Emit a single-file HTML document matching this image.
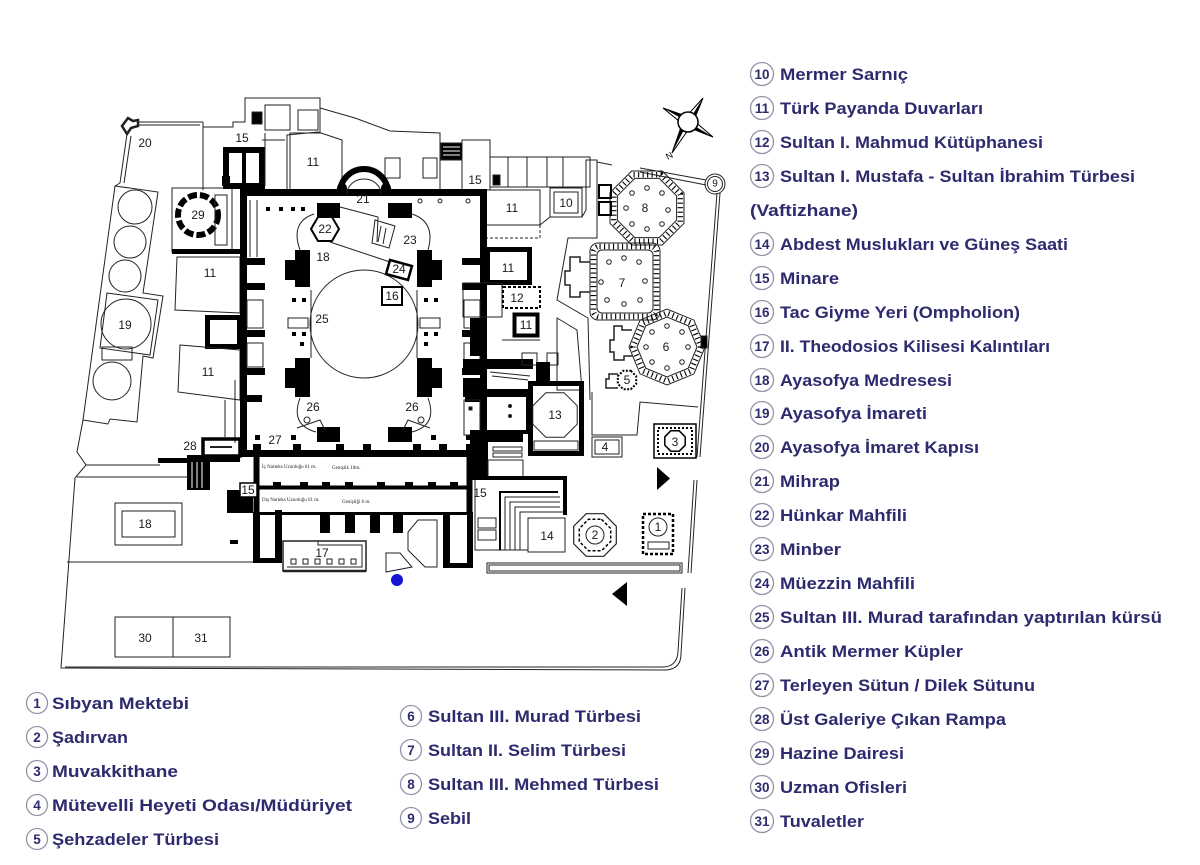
<!DOCTYPE html>
<html><head><meta charset="utf-8">
<style>
html,body{margin:0;padding:0;background:#fff;}
svg{display:block}
.l{font-family:"Liberation Sans",sans-serif;font-size:12px;fill:#1a1a1a;text-anchor:middle;dominant-baseline:central;stroke:none}
.g{font-family:"Liberation Sans","DejaVu Sans",sans-serif;font-weight:bold;font-size:17px;fill:#2d2b6e;stroke:none}
.n{font-family:"Liberation Sans",sans-serif;font-weight:bold;font-size:13.5px;fill:#2d2b6e;text-anchor:middle;stroke:none}
.t{font-family:"Liberation Serif",serif;font-size:5px;fill:#222;stroke:none}
</style></head><body>
<svg width="1200" height="865" viewBox="0 0 1200 865" xmlns="http://www.w3.org/2000/svg">
<rect width="1200" height="865" fill="#fff"/>

<!-- ================= PLAN ================= -->
<g fill="none" stroke="#222" stroke-width="1">
 <!-- site boundary -->
 <path d="M127 134 L120 183 L115 186 L83 420 L77 452 L86 465 L75 478 L61 668 L666 670 Q681 669 681 654 L685 588"/>
 <path d="M65 667 L664 667 Q677 666 678 652 L682 588"/>
 <path d="M131 136 L124 183"/>
 <path d="M138 122 L203 122 M138 125 L200 125 M203 122 L203 190"/>
 <path d="M122 126 L128 118 L133 121 L138 120 L138 126 L131 128 L127 134 Z" stroke-width="2.5"/>
 <!-- strip with circles -->
 <path d="M115 186 L158 192 L143 293 L163 296 L153 358 L143 356 L137 422 L110 419 L108 424 L83 420"/>
 <polygon points="107,293 158,300 150,355 100,348"/>
 <rect x="102" y="347" width="30" height="13"/>
 <circle cx="135" cy="207" r="17"/>
 <circle cx="130" cy="242" r="16"/>
 <circle cx="125" cy="276" r="16"/>
 <circle cx="126" cy="324" r="25"/>
 <circle cx="112" cy="381" r="19"/>
 <!-- horizontal lines lower left -->
 <path d="M86 465 L160 465 M77 477 L188 477 M67 562 L253 562"/>
 <rect x="115" y="503" width="67" height="42"/>
 <rect x="122" y="511" width="53" height="26"/>
 <rect x="115" y="617" width="58" height="40"/>
 <rect x="173" y="617" width="57" height="40"/>

 <!-- 29 block -->
 <rect x="172" y="188" width="60" height="64"/>
 <circle cx="198" cy="215" r="20" stroke="#000" stroke-width="6" stroke-dasharray="9 3"/>
 <rect x="172" y="249" width="70" height="5" fill="#000" stroke="none"/>
 <rect x="215" y="195" width="12" height="50" />
 <!-- 11 boxes left -->
 <polygon points="177,257 240,257 240,313 175,310"/>
 <rect x="207.5" y="317.5" width="32" height="29" stroke="#000" stroke-width="5"/>
 <polygon points="180,345 240,350 240,400 178,392"/>
 <path d="M225 400 L225 437 M235 380 L235 443"/>
 <rect x="203" y="439" width="37" height="17" stroke="#000" stroke-width="3.5"/>
 <path d="M210 447 L232 447" stroke-width="2"/>
 <rect x="158" y="458" width="30" height="5" fill="#000" stroke="none"/>

 <!-- top-left cluster -->
 <path d="M203 127 L233 127 L233 122 L245 122 L245 98 L320 98 L320 133 L290 133 L290 190"/>
 <rect x="226" y="150" width="36" height="36" stroke="#000" stroke-width="6"/>
 <path d="M244 150 L244 186" stroke="#000" stroke-width="4"/>
 <rect x="222" y="176" width="8" height="10" fill="#000" stroke="none"/>
 <rect x="265" y="105" width="25" height="25"/>
 <rect x="298" y="110" width="20" height="20"/>
 <rect x="252" y="112" width="10" height="12" fill="#000"/>
 <path d="M262 140 L285 140 M265 133 L265 186"/>
 <polygon points="287,135 318,132 342,140 342,190 287,190"/>
 <path d="M320 108 L355 118 L390 131 L440 133 L440 190"/>
 <rect x="385" y="158" width="15" height="20"/>
 <rect x="423" y="158" width="14" height="20"/>
 <rect x="441" y="143" width="21" height="17" fill="#000"/>
 <path d="M443 147 L460 147 M443 151 L460 151 M443 155 L460 155" stroke="#fff"/>
 <!-- right-top cluster -->
 <rect x="462" y="140" width="28" height="50"/>
 <rect x="490" y="157" width="100" height="30"/>
 <path d="M508 157 L508 187 M527 157 L527 187 M547 157 L547 187 M563 157 L563 187"/>
 <rect x="493" y="175" width="7" height="10" fill="#000"/>
 <rect x="485" y="190" width="55" height="35"/>
 <rect x="485" y="225" width="55" height="13" stroke-dasharray="3 2"/>
 <rect x="550" y="188" width="32" height="29"/>
 <rect x="554" y="192" width="24" height="21"/>
 <path d="M540 225 L550 217 M582 217 L586 210 L586 160 L597 160 L597 238 L568 238 L557 300 L588 318 L590 400"/>

 <!-- main building -->
 <rect x="243.5" y="192.5" width="240" height="261" stroke="#000" stroke-width="7"/>
 <path d="M340 193 A24 24 0 0 1 388 193" stroke="#000" stroke-width="6"/>
 <path d="M347 194 A17 15 0 0 1 381 194"/>
 <circle cx="342" cy="188" r="5" fill="#000" stroke="none"/>
 <circle cx="386" cy="188" r="5" fill="#000" stroke="none"/>
 <g fill="#000" stroke="none">
  <rect x="317" y="203" width="23" height="15"/>
  <rect x="388" y="203" width="24" height="15"/>
  <rect x="317" y="427" width="23" height="15"/>
  <rect x="388" y="427" width="24" height="15"/>
  <path d="M295 250 H310 V287 H295 V280 H285 V260 H295 Z"/>
  <path d="M417 250 H432 V260 H442 V280 H432 V287 H417 Z"/>
  <path d="M295 358 H310 V397 H295 V388 H285 V368 H295 Z"/>
  <path d="M417 358 H432 V368 H442 V388 H432 V397 H417 Z"/>
  <!-- aisle blocks -->
  <rect x="247" y="258" width="18" height="7"/><rect x="247" y="283" width="18" height="7"/>
  <rect x="247" y="330" width="18" height="7"/><rect x="247" y="368" width="18" height="7"/>
  <rect x="247" y="395" width="15" height="7"/>
  <rect x="462" y="258" width="18" height="7"/><rect x="462" y="283" width="18" height="7"/>
  <rect x="462" y="330" width="18" height="7"/><rect x="462" y="368" width="18" height="7"/>
  <rect x="465" y="395" width="15" height="7"/>
  <!-- bottom wall lumps -->
  <rect x="253" y="444" width="8" height="7"/><rect x="293" y="444" width="8" height="7"/>
  <rect x="336" y="444" width="8" height="7"/><rect x="363" y="444" width="8" height="7"/>
  <rect x="413" y="444" width="8" height="7"/><rect x="439" y="444" width="8" height="7"/>
  <rect x="466" y="444" width="8" height="7"/>
  <!-- small squares -->
  <rect x="266" y="207" width="4" height="4"/><rect x="279" y="207" width="4" height="4"/>
  <rect x="291" y="207" width="4" height="4"/><rect x="301" y="207" width="4" height="4"/>
  <rect x="255" y="435" width="5" height="5"/><rect x="291" y="435" width="5" height="5"/>
  <rect x="431" y="435" width="5" height="5"/><rect x="466" y="435" width="5" height="5"/>
  <rect x="292" y="298" width="4" height="4"/><rect x="302" y="298" width="4" height="4"/>
  <rect x="292" y="332" width="4" height="4"/><rect x="302" y="332" width="4" height="4"/>
  <rect x="424" y="298" width="4" height="4"/><rect x="434" y="298" width="4" height="4"/>
  <rect x="424" y="332" width="4" height="4"/><rect x="434" y="332" width="4" height="4"/>
  <rect x="300" y="342" width="4" height="4"/><rect x="424" y="342" width="4" height="4"/>
 </g>
 <circle cx="420" cy="201" r="2"/><circle cx="468" cy="201" r="2"/><circle cx="440" cy="201" r="2"/>
 <path d="M250 200 L250 257 M257 200 L257 257"/>
 <rect x="247" y="300" width="16" height="28"/><rect x="247" y="343" width="16" height="24"/>
 <rect x="464" y="300" width="16" height="28"/><rect x="464" y="343" width="16" height="24"/>
 <rect x="288" y="318" width="20" height="10"/><rect x="420" y="318" width="20" height="10"/>
 <path d="M311 290 L311 358 M417 290 L417 358"/>
 <!-- exedras -->
 <path d="M314 214 Q290 222 300 250"/>
 <path d="M412 214 Q436 222 428 250"/>
 <path d="M300 398 Q290 425 316 432"/>
 <path d="M428 398 Q438 425 412 432"/>
 <!-- dome -->
 <circle cx="364" cy="324" r="54"/>
 <!-- diagonal medrese lines -->
 <path d="M340 207 L378 217 M330 242 L390 262 M378 217 L377 242"/>
 <polygon points="375,220 395,226 389,248 372,243"/>
 <path d="M381 226 L378 242 M386 228 L383 244"/>
 <polygon points="339,229 332,241 318,241 311,229 318,217 332,217" stroke="#000" stroke-width="2"/>
 <polygon points="390,260 412,266 408,280 386,274" stroke="#000" stroke-width="2.5"/>
 <rect x="382" y="287" width="20" height="18" stroke="#000" stroke-width="2"/>
 <path d="M297 428 L320 420 L325 430 M430 428 L408 420 L403 430"/>
 <circle cx="307" cy="420" r="3"/><circle cx="421" cy="420" r="3"/>

 <!-- narthex -->
 <path d="M257 487.5 L470 487.5" stroke="#000" stroke-width="4"/>
 <path d="M253 513.5 L472 513.5" stroke="#000" stroke-width="3"/>
 <path d="M256.5 452 L256.5 515 M469.5 452 L469.5 515" stroke="#000" stroke-width="6"/>
 <g fill="#000" stroke="none">
  <rect x="273" y="482" width="8" height="7"/><rect x="300" y="482" width="8" height="7"/>
  <rect x="322" y="482" width="8" height="7"/><rect x="345" y="482" width="8" height="7"/>
  <rect x="377" y="482" width="8" height="7"/><rect x="405" y="482" width="8" height="7"/>
  <rect x="428" y="482" width="8" height="7"/><rect x="450" y="482" width="8" height="7"/>
  <rect x="187" y="455" width="23" height="35"/>
  <rect x="210" y="455" width="30" height="7"/>
  <rect x="227" y="490" width="26" height="23"/>
  <rect x="253" y="513" width="7" height="50"/><rect x="275" y="510" width="7" height="53"/>
  <rect x="253" y="558" width="29" height="5"/>
  <rect x="320" y="513" width="10" height="20"/><rect x="345" y="513" width="10" height="20"/>
  <rect x="370" y="513" width="10" height="20"/><rect x="393" y="513" width="10" height="20"/>
  <rect x="443" y="512" width="7" height="56"/><rect x="467" y="512" width="6" height="56"/>
  <rect x="443" y="563" width="30" height="5"/>
  <rect x="230" y="540" width="8" height="4"/>
 </g>
 <path d="M192 462 L192 488 M197 462 L197 488 M202 462 L202 488" stroke="#fff"/>
 <rect x="240" y="483" width="17" height="14" stroke="#000" stroke-width="1.5" fill="#fff"/>
 <path d="M418 520 L437 520 L437 567 L425 567 L408 550 L408 532 Z"/>
 <path d="M386 553 L400 553 L412 567 L386 572 Z"/>
 <rect x="283" y="541" width="83" height="30" stroke-width="1.5"/>
 <path d="M287 567 L362 567 L362 545 L318 545 L318 541" />
 <path d="M283 571 L366 571" stroke-width="2.5"/>
 <g fill="none" stroke="#222">
  <rect x="291" y="559" width="5" height="5"/><rect x="303" y="559" width="5" height="5"/>
  <rect x="315" y="559" width="5" height="5"/><rect x="327" y="559" width="5" height="5"/>
  <rect x="339" y="559" width="5" height="5"/><rect x="351" y="559" width="5" height="5"/>
 </g>

 <!-- right annex -->
 <rect x="487.5" y="249.5" width="42" height="33" stroke="#000" stroke-width="5"/>
 <rect x="463" y="283" width="39" height="34"/>
 <rect x="503" y="287" width="37" height="21" stroke="#000" stroke-width="2" stroke-dasharray="3 2"/>
 <rect x="514.5" y="314.5" width="23" height="21" stroke="#000" stroke-width="4"/>
 <rect x="470" y="318" width="14" height="38" fill="#000" stroke="none"/>
 <rect x="463" y="359" width="70" height="10" fill="#000" stroke="none"/>
 <path d="M490 372 L530 376 M492 376 L528 380" />
 <rect x="463" y="378" width="24" height="19" fill="#000" stroke="none"/>
 <rect x="480" y="389" width="53" height="6" fill="#000" stroke="none"/>
 <rect x="522" y="353" width="15" height="12"/>
 <rect x="547" y="353" width="11" height="12"/>
 <rect x="536" y="362" width="14" height="22" fill="#000" stroke="none"/>
 <path d="M557 318 L577 330 L582 390 L557 390 Z"/>
 <path d="M502 340 L540 340"/>
 <!-- 13 -->
 <rect x="530.5" y="383.5" width="51" height="70" stroke="#000" stroke-width="5"/>
 <polygon points="564.2,392.8 577.2,405.8 577.2,424.2 564.2,437.2 545.8,437.2 532.8,424.2 532.8,405.8 545.8,392.8"/>
 <rect x="534" y="441" width="44" height="9"/>
 <rect x="485" y="395" width="43" height="37" stroke="#000" stroke-width="4"/>
 <circle cx="510" cy="406" r="1.5" fill="#000"/><circle cx="510" cy="416" r="1.5" fill="#000"/>
 <rect x="464" y="400" width="16" height="35"/>
 <rect x="469" y="407" width="3" height="3" fill="#000"/>
 <rect x="480" y="430" width="43" height="12" fill="#000" stroke="none"/>
 <rect x="493" y="447" width="29" height="4"/><rect x="493" y="453" width="29" height="4"/>
 <rect x="470" y="430" width="18" height="48" fill="#000" stroke="none"/>
 <rect x="488" y="460" width="35" height="18"/>
 <!-- 15 structure -->
 <rect x="470" y="476" width="97" height="4" fill="#000" stroke="none"/>
 <rect x="563" y="478" width="4" height="37" fill="#000" stroke="none"/>
 <path d="M475 480 L475 550 L528 550" />
 <path d="M505 550 L505 497 L560 497 M510 550 L510 502 L560 502 M515 550 L515 507 L560 507 M520 550 L520 512 L563 512"/>
 <path d="M500 550 L500 492 L558 492" stroke="#000" stroke-width="2"/>
 <rect x="478" y="518" width="18" height="10"/><rect x="478" y="530" width="18" height="10"/>
 <rect x="528" y="518" width="37" height="34"/>
 <!-- 2 -->
 <polygon points="603.8,513.7 616.3,526.2 616.3,543.8 603.8,556.3 586.2,556.3 573.7,543.8 573.7,526.2 586.2,513.7" stroke-width="1.2"/>
 <polygon points="601.5,519.3 610.7,528.5 610.7,541.5 601.5,550.7 588.5,550.7 579.3,541.5 579.3,528.5 588.5,519.3" stroke="#000" stroke-width="1.5" stroke-dasharray="3 2"/>
 <circle cx="595" cy="535" r="9"/>
 <!-- 1 -->
 <rect x="643" y="514" width="30" height="40" stroke="#000" stroke-width="2.5" stroke-dasharray="3 2"/>
 <circle cx="658" cy="527" r="9"/>
 <rect x="648" y="542" width="21" height="7"/>
 <!-- long bar -->
 <rect x="487" y="563" width="195" height="10"/>
 <rect x="489" y="565" width="191" height="6"/>
 <!-- 4,5,3 enclosure -->
 <path d="M592 392 L592 435 L637 435 L640 402 L698 407"/>
 <rect x="592" y="437" width="30" height="20"/>
 <rect x="595" y="440" width="24" height="14"/>
 <rect x="654" y="424" width="42" height="34" stroke="#000" stroke-width="1.5"/>
 <rect x="658" y="428" width="34" height="26" stroke="#000" stroke-width="2" stroke-dasharray="2 2"/>
 <polygon points="679.2,430.8 685.2,436.8 685.2,445.2 679.2,451.2 670.8,451.2 664.8,445.2 664.8,436.8 670.8,430.8" stroke="#000" stroke-width="1.5"/>
 <path d="M717 193 L697 457 M720 193 L700 457"/>
 <path d="M694 480 L688 573 M697 480 L691 573"/>

 <!-- mausoleum 8 -->
 <polygon points="662.3,171 684,192.7 684,223.3 662.3,245 631.7,245 610,223.3 610,192.7 631.7,171"/>
 <polygon points="659.2,178.4 676.6,195.8 676.6,220.2 659.2,237.6 634.8,237.6 617.4,220.2 617.4,195.8 634.8,178.4"/>
 <polygon points="660.8,174.7 680.3,194.2 680.3,221.8 660.8,241.3 633.2,241.3 613.7,221.8 613.7,194.2 633.2,174.7" stroke="#000" stroke-width="5.5" stroke-dasharray="1.1 3.4"/>
 <g><circle cx="668" cy="210" r="2.3"/><circle cx="662" cy="224" r="2.3"/><circle cx="647" cy="229" r="2.3"/><circle cx="632" cy="224" r="2.3"/><circle cx="626" cy="208" r="2.3"/><circle cx="632" cy="193" r="2.3"/><circle cx="647" cy="188" r="2.3"/><circle cx="662" cy="193" r="2.3"/></g>
 <rect x="599" y="185" width="12" height="13" stroke="#000" stroke-width="2"/>
 <rect x="599" y="202" width="12" height="13" stroke="#000" stroke-width="2"/>
 <path d="M640 168 L706 180 M640 172 L706 185 M597 162 L612 165"/>
 <circle cx="715" cy="184" r="10"/>
 <circle cx="715" cy="184" r="7.5"/>
 <!-- mausoleum 7 -->
 <rect x="590" y="243" width="70" height="77" rx="8"/>
 <rect x="597" y="250" width="56" height="63" rx="5"/>
 <rect x="593.5" y="246.5" width="63" height="70" rx="6" stroke="#000" stroke-width="5.5" stroke-dasharray="1.1 3.4"/>
 <g><circle cx="609" cy="262" r="2.3"/><circle cx="624" cy="258" r="2.3"/><circle cx="639" cy="262" r="2.3"/><circle cx="645" cy="281" r="2.3"/><circle cx="640" cy="300" r="2.3"/><circle cx="624" cy="304" r="2.3"/><circle cx="607" cy="300" r="2.3"/><circle cx="601" cy="282" r="2.3"/></g>
 <path d="M590 262 L580 262 L580 257 L570 257 L570 271 L565 271 L565 285 L570 285 L570 297 L580 297 L580 292 L590 292" stroke-width="1.5"/>
 <!-- mausoleum 6 -->
 <polygon points="705,347 693.9,373.9 667,385 640.1,373.9 629,347 640.1,320.1 667,309 693.9,320.1"/>
 <polygon points="697,347 688.2,368.2 667,377 645.8,368.2 637,347 645.8,325.8 667,317 688.2,325.8"/>
 <polygon points="701,347 691,371 667,381 643,371 633,347 643,323 667,313 691,323" stroke="#000" stroke-width="5.5" stroke-dasharray="1.1 3.4"/>
 <g><circle cx="688" cy="347" r="2.3"/><circle cx="682" cy="362" r="2.3"/><circle cx="667" cy="368" r="2.3"/><circle cx="652" cy="362" r="2.3"/><circle cx="646" cy="347" r="2.3"/><circle cx="652" cy="332" r="2.3"/><circle cx="667" cy="326" r="2.3"/><circle cx="682" cy="332" r="2.3"/></g>
 <path d="M632 330 L622 330 L622 326 L614 326 L614 340 L610 340 L610 352 L614 352 L614 360 L624 360 L624 356 L633 356" stroke-width="1.5"/>
 <rect x="701" y="336" width="6" height="12" fill="#000"/>
 <!-- 5 -->
 <polygon points="630.8,370.8 636.2,376.2 636.2,383.8 630.8,389.2 623.2,389.2 617.8,383.8 617.8,376.2 623.2,370.8" stroke="#000" stroke-width="2" stroke-dasharray="2 1.5"/>
 <path d="M618 374 L609 374 L609 379 L606 379 L606 388 L618 388" stroke-width="1.5"/>
</g>

<!-- triangles -->
<polygon points="657,467 670,478.5 657,490" fill="#000"/>
<polygon points="627,582 612,594 627,606" fill="#000"/>
<!-- blue dot -->
<circle cx="397" cy="580" r="6" fill="#1515d0"/>

<!-- compass -->
<polygon points="703,98 693.8,120.6 713,137 689.6,127.8 672,153 682.2,123.7 663,108 686.5,116.2" fill="#fff" stroke="#000" stroke-width="1"/>
<polygon points="688,122 703,98 693.8,120.6" fill="#000"/>
<polygon points="688,122 713,137 689.6,127.8" fill="#000"/>
<polygon points="688,122 672,153 682.2,123.7" fill="#000"/>
<polygon points="688,122 663,108 686.5,116.2" fill="#000"/>
<circle cx="688" cy="122" r="10" fill="#fff" stroke="#000" stroke-width="1.5"/>
<text x="668" y="160" font-family="Liberation Sans,sans-serif" font-size="9" fill="#000" transform="rotate(-30 668 160)">N</text>

<!-- narthex tiny texts -->
<text class="t" x="262" y="468">İç Narteks Uzunluğu 61 m.</text>
<text class="t" x="332" y="469">Genişlik 10m.</text>
<text class="t" x="262" y="501">Dış Narteks Uzunluğu 61 m.</text>
<text class="t" x="342" y="503">Genişliği 6 m.</text>

<!-- plan labels -->
<g>
 <text class="l" x="145" y="143">20</text>
 <text class="l" x="242" y="138">15</text>
 <text class="l" x="313" y="162">11</text>
 <text class="l" x="475" y="180">15</text>
 <text class="l" x="512" y="208">11</text>
 <text class="l" x="566" y="203">10</text>
 <text class="l" x="198" y="215">29</text>
 <text class="l" x="363" y="199">21</text>
 <text class="l" x="325" y="229">22</text>
 <text class="l" x="410" y="240">23</text>
 <text class="l" x="323" y="257">18</text>
 <text class="l" x="399" y="269">24</text>
 <text class="l" x="392" y="296">16</text>
 <text class="l" x="322" y="319">25</text>
 <text class="l" x="313" y="407">26</text>
 <text class="l" x="412" y="407">26</text>
 <text class="l" x="275" y="440">27</text>
 <text class="l" x="190" y="446">28</text>
 <text class="l" x="210" y="273">11</text>
 <text class="l" x="208" y="372">11</text>
 <text class="l" x="125" y="325">19</text>
 <text class="l" x="248" y="490">15</text>
 <text class="l" x="480" y="493">15</text>
 <text class="l" x="145" y="524">18</text>
 <text class="l" x="322" y="553">17</text>
 <text class="l" x="145" y="638">30</text>
 <text class="l" x="201" y="638">31</text>
 <text class="l" x="508" y="268">11</text>
 <text class="l" x="517" y="298">12</text>
 <text class="l" x="526" y="325">11</text>
 <text class="l" x="555" y="415">13</text>
 <text class="l" x="547" y="536">14</text>
 <text class="l" x="645" y="208">8</text>
 <text class="l" x="622" y="283">7</text>
 <text class="l" x="666" y="347">6</text>
 <text class="l" x="627" y="380">5</text>
 <text class="l" x="605" y="447">4</text>
 <text class="l" x="675" y="442">3</text>
 <text class="l" x="595" y="535">2</text>
 <text class="l" x="658" y="527">1</text>
 <text class="l" x="715" y="184" style="font-size:10px">9</text>
</g>

<!-- ================= LEGEND ================= -->
<g fill="none" stroke="#9494a8" stroke-width="1.3">
 <circle cx="762" cy="74" r="11.5"/><circle cx="762" cy="108" r="11.5"/><circle cx="762" cy="142" r="11.5"/>
 <circle cx="762" cy="176" r="11.5"/><circle cx="762" cy="244" r="11.5"/><circle cx="762" cy="278" r="11.5"/>
 <circle cx="762" cy="312" r="11.5"/><circle cx="762" cy="346" r="11.5"/><circle cx="762" cy="380" r="11.5"/>
 <circle cx="762" cy="413" r="11.5"/><circle cx="762" cy="447" r="11.5"/><circle cx="762" cy="481" r="11.5"/>
 <circle cx="762" cy="515" r="11.5"/><circle cx="762" cy="549" r="11.5"/><circle cx="762" cy="583" r="11.5"/>
 <circle cx="762" cy="617" r="11.5"/><circle cx="762" cy="651" r="11.5"/><circle cx="762" cy="685" r="11.5"/>
 <circle cx="762" cy="719" r="11.5"/><circle cx="762" cy="753" r="11.5"/><circle cx="762" cy="787" r="11.5"/>
 <circle cx="762" cy="821" r="11.5"/>
 <circle cx="37" cy="703" r="10.5"/><circle cx="37" cy="737" r="10.5"/><circle cx="37" cy="771" r="10.5"/>
 <circle cx="37" cy="805" r="10.5"/><circle cx="37" cy="839" r="10.5"/>
 <circle cx="411" cy="716" r="10.5"/><circle cx="411" cy="750" r="10.5"/><circle cx="411" cy="784" r="10.5"/>
 <circle cx="411" cy="818" r="10.5"/>
</g>
<g>
 <text class="n" x="762" y="79">10</text><text class="n" x="762" y="113">11</text><text class="n" x="762" y="147">12</text>
 <text class="n" x="762" y="181">13</text><text class="n" x="762" y="249">14</text><text class="n" x="762" y="283">15</text>
 <text class="n" x="762" y="317">16</text><text class="n" x="762" y="351">17</text><text class="n" x="762" y="385">18</text>
 <text class="n" x="762" y="418">19</text><text class="n" x="762" y="452">20</text><text class="n" x="762" y="486">21</text>
 <text class="n" x="762" y="520">22</text><text class="n" x="762" y="554">23</text><text class="n" x="762" y="588">24</text>
 <text class="n" x="762" y="622">25</text><text class="n" x="762" y="656">26</text><text class="n" x="762" y="690">27</text>
 <text class="n" x="762" y="724">28</text><text class="n" x="762" y="758">29</text><text class="n" x="762" y="792">30</text>
 <text class="n" x="762" y="826">31</text>
 <text class="n" x="37" y="708">1</text><text class="n" x="37" y="742">2</text><text class="n" x="37" y="776">3</text>
 <text class="n" x="37" y="810">4</text><text class="n" x="37" y="844">5</text>
 <text class="n" x="411" y="721">6</text><text class="n" x="411" y="755">7</text><text class="n" x="411" y="789">8</text>
 <text class="n" x="411" y="823">9</text>
</g>
<g>
 <text class="g" x="780" y="80" textLength="128" lengthAdjust="spacingAndGlyphs">Mermer Sarnıç</text>
 <text class="g" x="780" y="114" textLength="203" lengthAdjust="spacingAndGlyphs">Türk Payanda Duvarları</text>
 <text class="g" x="780" y="148" textLength="263" lengthAdjust="spacingAndGlyphs">Sultan I. Mahmud Kütüphanesi</text>
 <text class="g" x="780" y="182" textLength="355" lengthAdjust="spacingAndGlyphs">Sultan I. Mustafa - Sultan İbrahim Türbesi</text>
 <text class="g" x="750" y="216" textLength="108" lengthAdjust="spacingAndGlyphs">(Vaftizhane)</text>
 <text class="g" x="780" y="250" textLength="288" lengthAdjust="spacingAndGlyphs">Abdest Muslukları ve Güneş Saati</text>
 <text class="g" x="780" y="284" textLength="59" lengthAdjust="spacingAndGlyphs">Minare</text>
 <text class="g" x="780" y="318" textLength="240" lengthAdjust="spacingAndGlyphs">Tac Giyme Yeri (Ompholion)</text>
 <text class="g" x="780" y="352" textLength="270" lengthAdjust="spacingAndGlyphs">II. Theodosios Kilisesi Kalıntıları</text>
 <text class="g" x="780" y="386" textLength="172" lengthAdjust="spacingAndGlyphs">Ayasofya Medresesi</text>
 <text class="g" x="780" y="419" textLength="147" lengthAdjust="spacingAndGlyphs">Ayasofya İmareti</text>
 <text class="g" x="780" y="453" textLength="199" lengthAdjust="spacingAndGlyphs">Ayasofya İmaret Kapısı</text>
 <text class="g" x="780" y="487" textLength="60" lengthAdjust="spacingAndGlyphs">Mihrap</text>
 <text class="g" x="780" y="521" textLength="127" lengthAdjust="spacingAndGlyphs">Hünkar Mahfili</text>
 <text class="g" x="780" y="555" textLength="61" lengthAdjust="spacingAndGlyphs">Minber</text>
 <text class="g" x="780" y="589" textLength="135" lengthAdjust="spacingAndGlyphs">Müezzin Mahfili</text>
 <text class="g" x="780" y="623" textLength="382" lengthAdjust="spacingAndGlyphs">Sultan III. Murad tarafından yaptırılan kürsü</text>
 <text class="g" x="780" y="657" textLength="183" lengthAdjust="spacingAndGlyphs">Antik Mermer Küpler</text>
 <text class="g" x="780" y="691" textLength="255" lengthAdjust="spacingAndGlyphs">Terleyen Sütun / Dilek Sütunu</text>
 <text class="g" x="780" y="725" textLength="226" lengthAdjust="spacingAndGlyphs">Üst Galeriye Çıkan Rampa</text>
 <text class="g" x="780" y="759" textLength="124" lengthAdjust="spacingAndGlyphs">Hazine Dairesi</text>
 <text class="g" x="780" y="793" textLength="127" lengthAdjust="spacingAndGlyphs">Uzman Ofisleri</text>
 <text class="g" x="780" y="827" textLength="84" lengthAdjust="spacingAndGlyphs">Tuvaletler</text>

 <text class="g" x="52" y="709" textLength="137" lengthAdjust="spacingAndGlyphs">Sıbyan Mektebi</text>
 <text class="g" x="52" y="743" textLength="76" lengthAdjust="spacingAndGlyphs">Şadırvan</text>
 <text class="g" x="52" y="777" textLength="126" lengthAdjust="spacingAndGlyphs">Muvakkithane</text>
 <text class="g" x="52" y="811" textLength="300" lengthAdjust="spacingAndGlyphs">Mütevelli Heyeti Odası/Müdüriyet</text>
 <text class="g" x="52" y="845" textLength="167" lengthAdjust="spacingAndGlyphs">Şehzadeler Türbesi</text>
 <text class="g" x="428" y="722" textLength="213" lengthAdjust="spacingAndGlyphs">Sultan III. Murad Türbesi</text>
 <text class="g" x="428" y="756" textLength="198" lengthAdjust="spacingAndGlyphs">Sultan II. Selim Türbesi</text>
 <text class="g" x="428" y="790" textLength="231" lengthAdjust="spacingAndGlyphs">Sultan III. Mehmed Türbesi</text>
 <text class="g" x="428" y="824" textLength="43" lengthAdjust="spacingAndGlyphs">Sebil</text>
</g>
</svg>
</body></html>
